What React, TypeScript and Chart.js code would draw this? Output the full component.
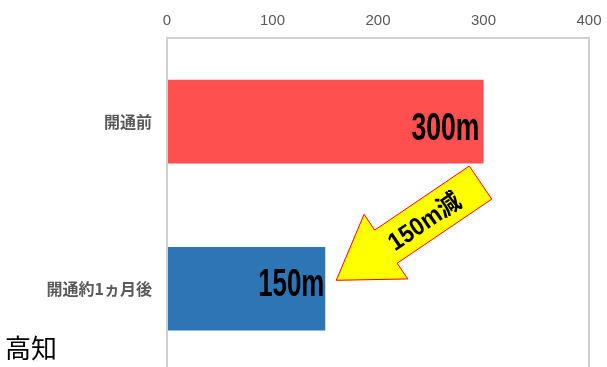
import React, { useEffect, useRef } from 'react';
import { Chart, registerables } from 'chart.js';

Chart.register(...registerables);

const categories = ['開通前', '開通約1ヵ月後'];
const values = [300, 150];
const barColors = ['#ff5050', '#2e75b6'];
const valueLabels = ['300m', '150m'];
const xMin = 0;
const xMax = 400;
const xStep = 100;
const arrowLabel = '150m減';
const regionTitle = '高知';

const drawFitted = (
  ctx: CanvasRenderingContext2D,
  text: string,
  x: number,
  y: number,
  font: string,
  width: number,
  align: CanvasTextAlign
) => {
  ctx.save();
  ctx.font = font;
  const w = ctx.measureText(text).width;
  const sx = width / w;
  ctx.translate(x, y);
  ctx.scale(sx, 1);
  ctx.textAlign = align;
  ctx.textBaseline = 'middle';
  ctx.fillStyle = '#000000';
  ctx.fillText(text, 0, 0);
  ctx.restore();
};

const overlayPlugin = {
  id: 'overlay',
  afterDatasetsDraw(chart: any) {
    const ctx: CanvasRenderingContext2D = chart.ctx;
    const meta = chart.getDatasetMeta(0);
    const red = meta.data[0];
    const blue = meta.data[1];
    const font = 'bold 39px "Liberation Sans", "DejaVu Sans", sans-serif';
    drawFitted(ctx, valueLabels[0], red.x - 4, red.y + 7.5, font, 68, 'right');
    drawFitted(ctx, valueLabels[1], blue.x - 1, blue.y - 3.5, font, 66, 'right');

    // arrow
    const tip = { x: blue.x + 11, y: blue.y - 8.5 };
    const tail = { x: red.x - 3, y: red.y + 61 };
    const dx = tip.x - tail.x;
    const dy = tip.y - tail.y;
    const L = Math.hypot(dx, dy);
    const u = { x: dx / L, y: dy / L };
    const n = { x: -u.y, y: u.x };
    const headLen = 60;
    const shaftHalf = 20;
    const headHalf = 39;
    const B = { x: tip.x - u.x * headLen, y: tip.y - u.y * headLen };
    const pts = [
      [tail.x + n.x * shaftHalf, tail.y + n.y * shaftHalf],
      [B.x + n.x * shaftHalf, B.y + n.y * shaftHalf],
      [B.x + n.x * headHalf, B.y + n.y * headHalf],
      [tip.x, tip.y],
      [B.x - n.x * headHalf, B.y - n.y * headHalf],
      [B.x - n.x * shaftHalf, B.y - n.y * shaftHalf],
      [tail.x - n.x * shaftHalf, tail.y - n.y * shaftHalf],
    ];
    ctx.save();
    ctx.beginPath();
    pts.forEach((p, i) => (i === 0 ? ctx.moveTo(p[0], p[1]) : ctx.lineTo(p[0], p[1])));
    ctx.closePath();
    ctx.fillStyle = '#ffff00';
    ctx.fill();
    ctx.strokeStyle = '#ff0000';
    ctx.lineWidth = 1;
    ctx.stroke();
    ctx.restore();

    // arrow text
    const angle = Math.atan2(-u.y, -u.x);
    const c = { x: tail.x + u.x * 68 + 1, y: tail.y + u.y * 68 + 2 };
    ctx.save();
    ctx.translate(c.x, c.y);
    ctx.rotate(angle);
    drawFitted(ctx, arrowLabel, 0, 0, 'bold 25px "Liberation Sans", "Noto Sans CJK JP", sans-serif', 82, 'center');
    ctx.restore();
  },
};

export default function App() {
  const canvasRef = useRef<HTMLCanvasElement | null>(null);

  useEffect(() => {
    document.body.style.overflow = 'hidden';
    const canvas = canvasRef.current;
    if (!canvas) return;
    const chart = new Chart(canvas, {
      type: 'bar',
      data: {
        labels: categories,
        datasets: [
          {
            data: values,
            backgroundColor: barColors,
            borderWidth: 0,
            barPercentage: 0.5,
            categoryPercentage: 1,
          },
        ],
      },
      options: {
        indexAxis: 'y',
        responsive: false,
        animation: false,
        events: [],
        layout: { padding: { top: 0, right: 18, bottom: 2, left: 0 } },
        plugins: {
          legend: { display: false },
          tooltip: { enabled: false },
        },
        scales: {
          x: {
            position: 'top',
            min: xMin,
            max: xMax,
            ticks: {
              stepSize: xStep,
              padding: 8,
              color: '#595959',
              font: { family: '"Liberation Sans", "DejaVu Sans", sans-serif', size: 15 },
            },
            grid: {
              drawTicks: false,
              lineWidth: 2,
              color: (c: any) =>
                c.tick && (c.tick.value === xMin || c.tick.value === xMax) ? '#d0d0d0' : 'rgba(0,0,0,0)',
            },
            border: { display: true, color: '#d0d0d0', width: 2 },
            afterFit: (scale: any) => {
              scale.height = 38;
              scale.paddingRight = 0;
              scale.paddingLeft = 0;
            },
          },
          y: {
            ticks: {
              padding: 15,
              color: '#595959',
              font: { family: '"Noto Sans CJK JP", sans-serif', size: 16, weight: 'bold' },
            },
            grid: { display: false, drawTicks: false },
            border: { display: false },
            afterFit: (scale: any) => {
              scale.width = 167;
            },
          },
        },
      },
      plugins: [overlayPlugin],
    } as any);
    return () => chart.destroy();
  }, []);

  return (
    <div style={{ position: 'absolute', left: 0, top: 0, width: 607, height: 397 }}>
      <canvas ref={canvasRef} width={607} height={397} style={{ display: 'block' }} />
      <div
        style={{
          position: 'absolute',
          left: 5,
          top: 333,
          fontFamily: '"Noto Sans CJK JP", sans-serif',
          fontSize: 26,
          lineHeight: '28px',
          color: '#000',
          zIndex: 2,
        }}
      >
        {regionTitle}
      </div>
    </div>
  );
}
